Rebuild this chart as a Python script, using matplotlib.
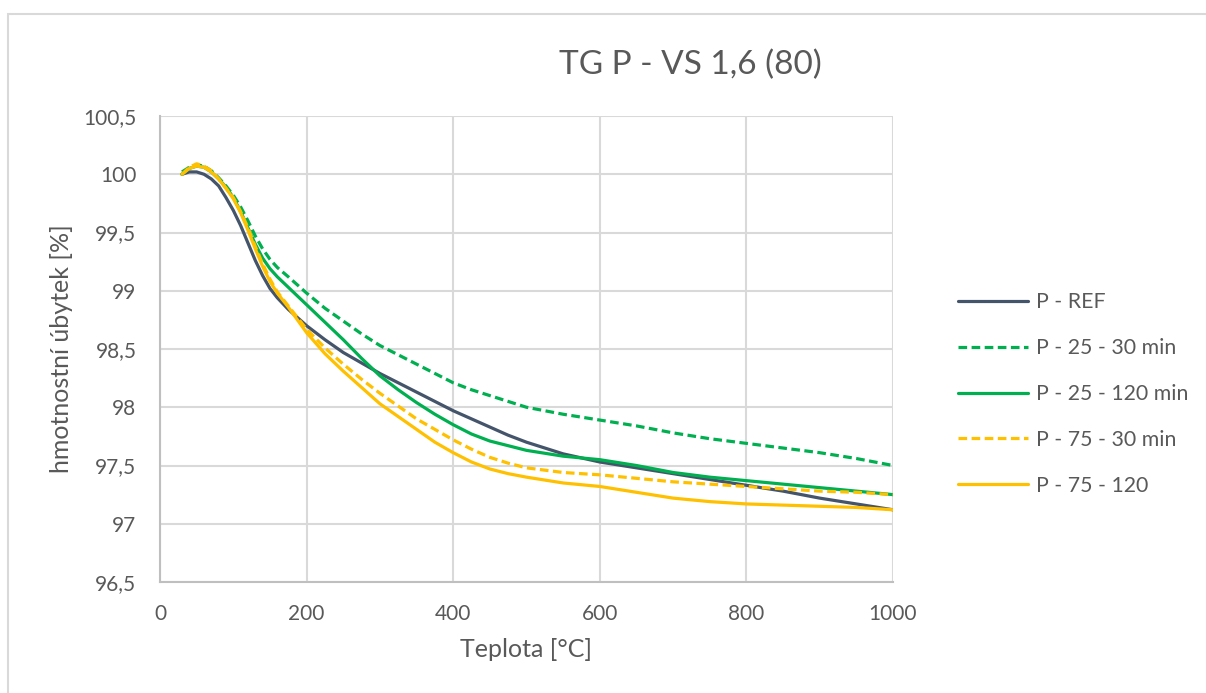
import matplotlib
matplotlib.use("Agg")
import matplotlib.pyplot as plt
from matplotlib.patches import Rectangle
from matplotlib.ticker import FuncFormatter, MultipleLocator

plt.rcParams["font.family"] = ["Lato", "DejaVu Sans"]

# Temperature grid [°C] shared by all TG curves
temperature = [30, 40, 50, 60, 70, 80, 90, 100, 110, 120, 130, 140, 150, 160, 175,
               200, 225, 250, 275, 300, 325, 350, 375, 400, 425, 450, 475, 500,
               550, 600, 650, 700, 750, 800, 850, 900, 950, 1000]

# Residual mass [%]
p_ref = [100.00, 100.02, 100.02, 100.00, 99.96, 99.90, 99.80, 99.69, 99.56, 99.41,
         99.26, 99.13, 99.02, 98.94, 98.84, 98.70, 98.58, 98.47, 98.38, 98.29,
         98.21, 98.13, 98.05, 97.97, 97.90, 97.83, 97.76, 97.70, 97.60, 97.53,
         97.48, 97.43, 97.38, 97.33, 97.28, 97.22, 97.17, 97.12]
p_25_30 = [100.02, 100.06, 100.08, 100.07, 100.03, 99.97, 99.90, 99.82, 99.72, 99.60,
           99.47, 99.36, 99.27, 99.20, 99.12, 98.98, 98.85, 98.74, 98.63, 98.53,
           98.45, 98.37, 98.29, 98.21, 98.15, 98.10, 98.05, 98.00, 97.94, 97.89,
           97.84, 97.78, 97.73, 97.69, 97.65, 97.61, 97.56, 97.50]
p_25_120 = [100.00, 100.05, 100.07, 100.06, 100.02, 99.96, 99.89, 99.80, 99.68, 99.54,
            99.40, 99.28, 99.19, 99.12, 99.03, 98.88, 98.73, 98.58, 98.42, 98.27,
            98.15, 98.04, 97.94, 97.85, 97.77, 97.71, 97.67, 97.63, 97.58, 97.55,
            97.50, 97.44, 97.40, 97.37, 97.34, 97.31, 97.28, 97.25]
p_75_30 = [100.00, 100.06, 100.09, 100.07, 100.03, 99.96, 99.88, 99.80, 99.68, 99.54,
           99.38, 99.23, 99.10, 98.99, 98.87, 98.67, 98.51, 98.37, 98.24, 98.12,
           98.01, 97.90, 97.81, 97.72, 97.64, 97.57, 97.52, 97.48, 97.44, 97.42,
           97.39, 97.36, 97.34, 97.32, 97.30, 97.28, 97.27, 97.25]
p_75_120 = [100.00, 100.05, 100.07, 100.06, 100.02, 99.96, 99.88, 99.79, 99.67, 99.52,
            99.36, 99.21, 99.08, 98.98, 98.86, 98.64, 98.46, 98.31, 98.17, 98.03,
            97.92, 97.81, 97.70, 97.61, 97.53, 97.47, 97.43, 97.40, 97.35, 97.32,
            97.27, 97.22, 97.19, 97.17, 97.16, 97.15, 97.14, 97.12]

labels = ["P - REF", "P - 25 - 30 min", "P - 25 - 120 min", "P - 75 - 30 min", "P - 75 - 120"]
series = [p_ref, p_25_30, p_25_120, p_75_30, p_75_120]
colors = ["#44546A", "#00B050", "#00B050", "#FFC000", "#FFC000"]
dashed = [False, True, False, True, False]

TEXT = "#595959"
GRID = "#D9D9D9"

fig = plt.figure(figsize=(12.06, 6.93), dpi=100)
fig.patches.append(Rectangle((8 / 1206, -0.01), 1.02, 1 - 14 / 693 + 0.01,
                             transform=fig.transFigure, fill=False,
                             edgecolor="#D9D9D9", linewidth=1.5))

ax = fig.add_axes([160 / 1206, 1 - 582 / 693, 733 / 1206, 466 / 693])

for y, lab, c, d in zip(series, labels, colors, dashed):
    ls = (0, (2.7, 1.4)) if d else "-"
    ax.plot(temperature, y, color=c, lw=2.3, ls=ls, label=lab,
            solid_capstyle="round", solid_joinstyle="round", dash_capstyle="butt")

ax.set_xlim(0, 1000)
ax.set_ylim(96.5, 100.5)
ax.xaxis.set_major_locator(MultipleLocator(200))
ax.yaxis.set_major_locator(MultipleLocator(0.5))
ax.yaxis.set_major_formatter(FuncFormatter(lambda v, p: f"{v:g}".replace(".", ",")))
ax.grid(True, color=GRID, lw=1.5)
ax.set_axisbelow(True)
for s in ["top", "right"]:
    ax.spines[s].set_visible(False)
for s in ["left", "bottom"]:
    ax.spines[s].set_color("#BFBFBF")
    ax.spines[s].set_linewidth(1.5)
ax.tick_params(length=0, labelsize=15, labelcolor=TEXT)
ax.tick_params(axis="y", pad=17)
ax.tick_params(axis="x", pad=16)

ax.set_xlabel("Teplota [°C]", fontsize=18, color=TEXT, labelpad=10)
ax.set_ylabel("hmotnostní úbytek [%]", fontsize=18, color=TEXT, labelpad=7)
fig.text(690 / 1206, 1 - 65 / 693, "TG P - VS 1,6 (80)", fontsize=24, color=TEXT,
         ha="center", va="center")

leg = fig.legend(loc="upper left", bbox_to_anchor=(939 / 1206, 1 - 273 / 693),
                 frameon=False, fontsize=15.3, handlelength=3.3, handletextpad=0.38,
                 labelspacing=1.22, labelcolor=TEXT)

fig.savefig("out.png", dpi=100)
